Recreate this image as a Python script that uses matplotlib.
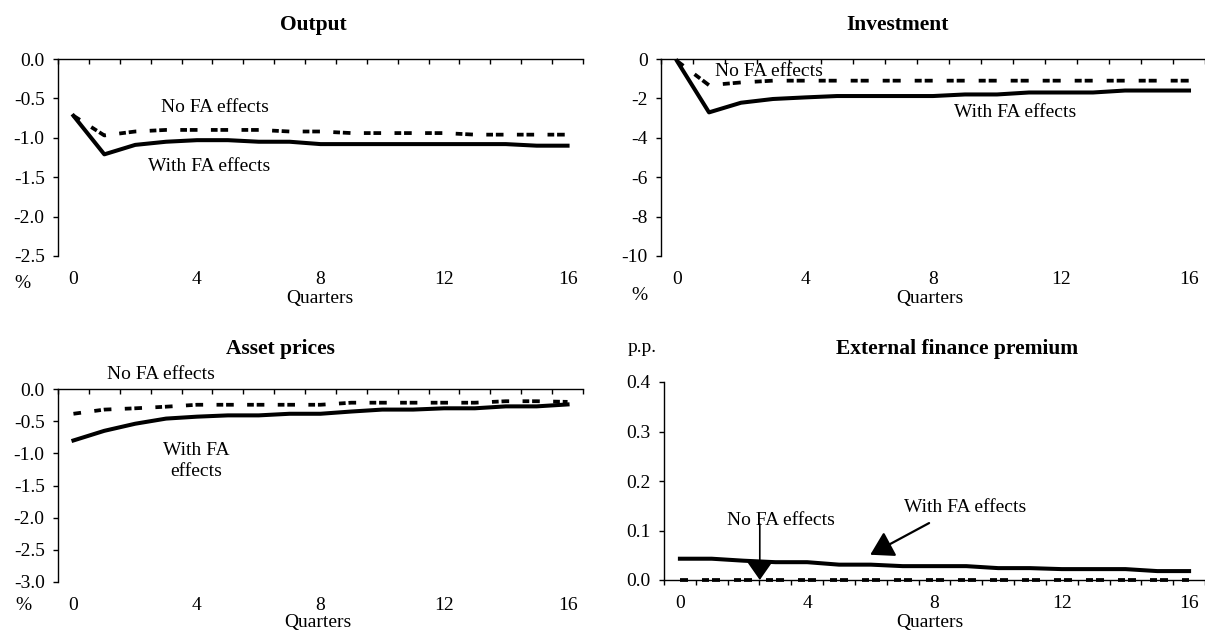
import matplotlib
matplotlib.use("Agg")
import matplotlib.pyplot as plt
import numpy as np
from matplotlib.ticker import FormatStrFormatter

# quarters after the shock
quarters = list(range(17))
xtick_labels = [0, 4, 8, 12, 16]

# Output (%)
output_fa = [-0.72, -1.21, -1.09, -1.05, -1.03, -1.03, -1.05, -1.05, -1.08,
             -1.08, -1.08, -1.08, -1.08, -1.08, -1.08, -1.10, -1.10]
output_nofa = [-0.72, -0.97, -0.92, -0.90, -0.90, -0.90, -0.90, -0.92, -0.92,
               -0.94, -0.94, -0.94, -0.94, -0.96, -0.96, -0.96, -0.96]

# Investment (%)
invest_fa = [-0.10, -2.71, -2.22, -2.03, -1.95, -1.88, -1.88, -1.88, -1.88,
             -1.80, -1.80, -1.70, -1.70, -1.70, -1.60, -1.60, -1.60]
invest_nofa = [-0.10, -1.33, -1.19, -1.10, -1.10, -1.10, -1.10, -1.10, -1.10,
               -1.10, -1.10, -1.10, -1.10, -1.10, -1.10, -1.10, -1.10]

# Asset prices (%)
asset_fa = [-0.80, -0.65, -0.54, -0.46, -0.43, -0.41, -0.41, -0.385, -0.385,
            -0.35, -0.32, -0.32, -0.30, -0.30, -0.27, -0.27, -0.24]
asset_nofa = [-0.385, -0.32, -0.30, -0.275, -0.245, -0.245, -0.245, -0.245, -0.245,
              -0.213, -0.213, -0.213, -0.213, -0.213, -0.19, -0.19, -0.20]

# External finance premium (p.p.)
efp_fa = [0.043, 0.043, 0.039, 0.036, 0.036, 0.031, 0.031, 0.028, 0.028,
          0.028, 0.024, 0.024, 0.022, 0.022, 0.022, 0.018, 0.018]
efp_nofa = [0.0] * 17

plt.rcParams["font.family"] = ["Liberation Serif", "DejaVu Serif"]
plt.rcParams["axes.unicode_minus"] = False
plt.rcParams["lines.scale_dashes"] = False

W, H = 1205, 630
fig = plt.figure(figsize=(W / 100, H / 100), dpi=100)


def box(l, t, r, b):
    return [l / W, 1 - b / H, (r - l) / W, (b - t) / H]


def setup(ax, ylim, yticks, fmt, top_axis, xright):
    ax.set_xlim(-0.5, xright)
    ax.set_ylim(*ylim)
    ax.set_yticks(yticks)
    ax.yaxis.set_major_formatter(FormatStrFormatter(fmt))
    ax.set_xticks(xtick_labels)
    ax.set_xticks(np.arange(-0.5, 17, 1), minor=True)
    ax.spines["right"].set_visible(False)
    for s in ax.spines.values():
        s.set_linewidth(1.0)
    if top_axis:
        ax.spines["bottom"].set_visible(False)
        ax.tick_params(axis="x", which="minor", top=True, bottom=False,
                       direction="in", length=3.6, width=1)
    else:
        ax.spines["top"].set_visible(False)
        ax.tick_params(axis="x", which="minor", top=False, bottom=True,
                       direction="out", length=3.6, width=1)
    ax.tick_params(axis="x", which="major", length=0, pad=11, labelsize=14)
    ax.tick_params(axis="y", length=3.6, width=1, pad=6, labelsize=14)
    ax.patch.set_alpha(0)


def draw(ax, fa, nofa, cat_px):
    k = cat_px / 32.3 * 0.72
    ax.plot(quarters, nofa, color="black", lw=2.7, clip_on=False,
            linestyle=(0, (8 * k, 14 * k, 7 * k, 3 * k)), solid_capstyle="butt")
    ax.plot(quarters, fa, color="black", lw=2.9, clip_on=False,
            solid_joinstyle="round")


def ftext(x, y, s, **kw):
    fig.text(x / W, 1 - y / H, s, ha="center", va="center", **kw)


# Output
ax1 = fig.add_axes(box(58, 59, 583, 256))
setup(ax1, (-2.5, 0), [0, -0.5, -1.0, -1.5, -2.0, -2.5], "%.1f", True, 16.5)
draw(ax1, output_fa, output_nofa, 30.9)
ax1.text(4.58, -0.615, "No FA effects", fontsize=14, ha="center", va="center")
ax1.text(4.40, -1.37, "With FA effects", fontsize=14, ha="center", va="center")

# Investment
ax2 = fig.add_axes(box(661, 59, 1205, 256))
setup(ax2, (-10, 0), [0, -2, -4, -6, -8, -10], "%d", True, 16.34)
draw(ax2, invest_fa, invest_nofa, 32.3)
ax2.text(2.88, -0.61, "No FA effects", fontsize=14, ha="center", va="center")
ax2.text(10.57, -2.74, "With FA effects", fontsize=14, ha="center", va="center")

# Asset prices
ax3 = fig.add_axes(box(58, 389, 583, 582))
setup(ax3, (-3.0, 0), [0, -0.5, -1.0, -1.5, -2.0, -2.5, -3.0], "%.1f", True, 16.5)
draw(ax3, asset_fa, asset_nofa, 30.9)
ax3.text(2.83, 0.22, "No FA effects", fontsize=14, ha="center", va="center")
ax3.text(3.97, -1.12, "With FA\neffects", fontsize=14, ha="center", va="center",
         linespacing=1.35)

# External finance premium
ax4 = fig.add_axes(box(664, 382, 1205, 580))
setup(ax4, (0, 0.4), [0, 0.1, 0.2, 0.3, 0.4], "%.1f", False, 16.25)
draw(ax4, efp_fa, efp_nofa, 32.3)
ax4.text(3.19, 0.121, "No FA effects", fontsize=14, ha="center", va="center")
ax4.text(8.95, 0.146, "With FA effects", fontsize=14, ha="center", va="center")
ax4.annotate("", xy=(2.51, 0.0), xytext=(2.51, 0.113),
             arrowprops=dict(arrowstyle="-|>,head_length=0.6,head_width=0.42",
                             mutation_scale=20, color="black", lw=1.2,
                             shrinkA=0, shrinkB=0))
ax4.annotate("", xy=(5.98, 0.051), xytext=(7.83, 0.115),
             arrowprops=dict(arrowstyle="-|>,head_length=0.7,head_width=0.42",
                             mutation_scale=20, color="black", lw=1.6,
                             shrinkA=0, shrinkB=0))

# titles and unit labels
title_kw = dict(fontsize=15.5, fontweight="bold")
ftext(313, 25, "Output", **title_kw)
ftext(897, 25, "Investment", **title_kw)
ftext(280, 349, "Asset prices", **title_kw)
ftext(957, 349, "External finance premium", **title_kw)

ftext(22, 283, "%", fontsize=14)
ftext(639, 295, "%", fontsize=14)
ftext(23, 606, "%", fontsize=14)
ftext(642, 347, "p.p.", fontsize=14)

ftext(320, 298, "Quarters", fontsize=14)
ftext(930, 298, "Quarters", fontsize=14)
ftext(318, 622, "Quarters", fontsize=14)
ftext(930, 622, "Quarters", fontsize=14)

fig.savefig("out.png", dpi=100)
